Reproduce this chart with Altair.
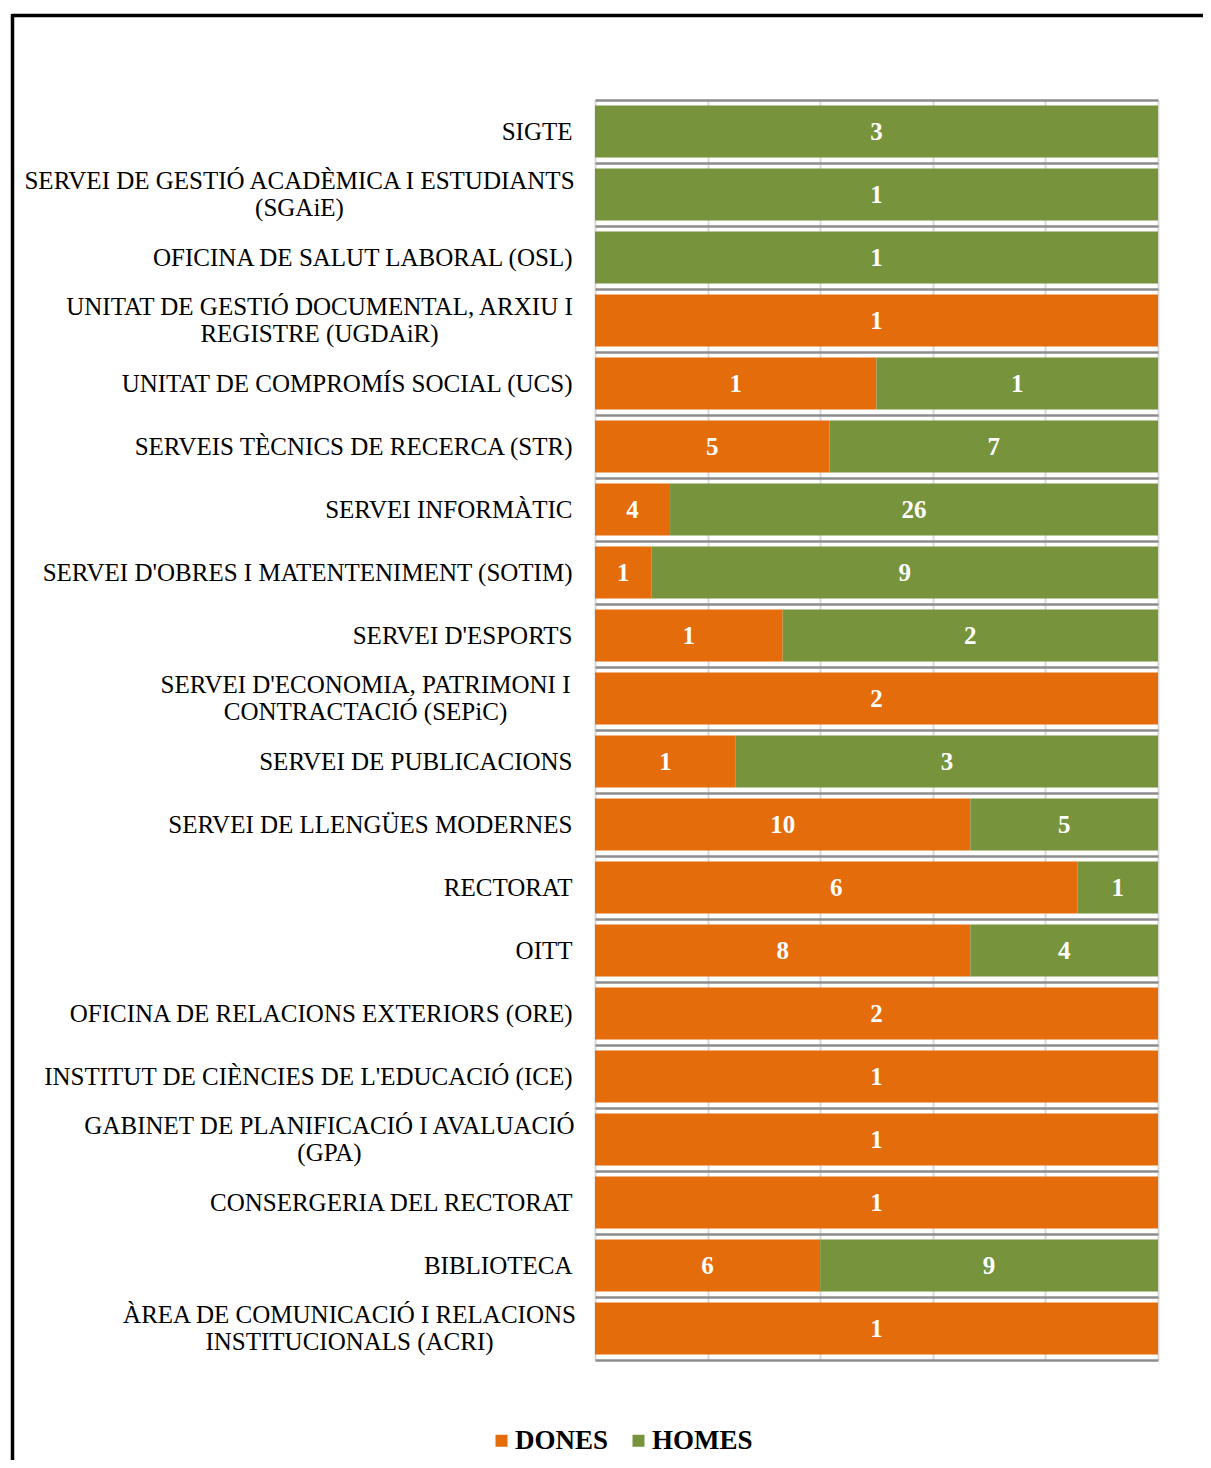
import json
import altair as alt
import pandas as pd

categories = [
    "SIGTE",
    "SERVEI DE GESTIÓ ACADÈMICA I ESTUDIANTS|(SGAiE)",
    "OFICINA DE SALUT LABORAL (OSL)",
    "UNITAT DE GESTIÓ DOCUMENTAL, ARXIU I|REGISTRE (UGDAiR)",
    "UNITAT DE COMPROMÍS SOCIAL (UCS)",
    "SERVEIS TÈCNICS DE RECERCA (STR)",
    "SERVEI INFORMÀTIC",
    "SERVEI D'OBRES I MATENTENIMENT (SOTIM)",
    "SERVEI D'ESPORTS",
    "SERVEI D'ECONOMIA, PATRIMONI I|CONTRACTACIÓ (SEPiC)",
    "SERVEI DE PUBLICACIONS",
    "SERVEI DE LLENGÜES MODERNES",
    "RECTORAT",
    "OITT",
    "OFICINA DE RELACIONS EXTERIORS (ORE)",
    "INSTITUT DE CIÈNCIES DE L'EDUCACIÓ (ICE)",
    "GABINET DE PLANIFICACIÓ I AVALUACIÓ|(GPA)",
    "CONSERGERIA DEL RECTORAT",
    "BIBLIOTECA",
    "ÀREA DE COMUNICACIÓ I RELACIONS|INSTITUCIONALS (ACRI)",
]
dones = [0, 0, 0, 1, 1, 5, 4, 1, 1, 2, 1, 10, 6, 8, 2, 1, 1, 1, 6, 1]
homes = [3, 1, 1, 0, 1, 7, 26, 9, 2, 0, 3, 5, 1, 4, 0, 0, 0, 0, 9, 0]
series = ["DONES", "HOMES"]
colors = ["#E46C0A", "#77933C"]

# label-centre padding for the two-line labels (lines centred on each other)
multiline_padding = {
    "SERVEI DE GESTIÓ ACADÈMICA I ESTUDIANTS|(SGAiE)": 296,
    "UNITAT DE GESTIÓ DOCUMENTAL, ARXIU I|REGISTRE (UGDAiR)": 276,
    "SERVEI D'ECONOMIA, PATRIMONI I|CONTRACTACIÓ (SEPiC)": 230,
    "GABINET DE PLANIFICACIÓ I AVALUACIÓ|(GPA)": 266,
    "ÀREA DE COMUNICACIÓ I RELACIONS|INSTITUCIONALS (ACRI)": 246,
}

rows = []
for c, d, h in zip(categories, dones, homes):
    rows.append({"cat": c, "sexe": "DONES", "n": d, "ord": 0})
    rows.append({"cat": c, "sexe": "HOMES", "n": h, "ord": 1})
df = pd.DataFrame(rows)

FONT = "Liberation Serif"
IS_MULTI = "indexof(datum.value, '|') >= 0"

pad_conditions = [
    {"test": "datum.value === " + json.dumps(k), "value": v}
    for k, v in multiline_padding.items()
]

base = (
    alt.Chart(df)
    .transform_filter("datum.n > 0")
    .transform_stack(
        stack="n",
        groupby=["cat"],
        as_=["x0", "x1"],
        offset="normalize",
        sort=[alt.SortField("ord")],
    )
    .transform_calculate(xm="(datum.x0 + datum.x1) / 2")
)

yenc = alt.Y(
    "cat:N",
    sort=categories,
    scale=alt.Scale(paddingInner=0.175, paddingOuter=0.0875),
    axis=alt.Axis(
        title=None,
        labelExpr="split(datum.label, '|')",
        labelFont=FONT,
        labelFontSize=25,
        labelColor="#000000",
        labelAlign={"condition": {"test": IS_MULTI, "value": "center"}, "value": "right"},
        labelPadding={"condition": pad_conditions, "value": 23},
        labelOffset={"condition": {"test": IS_MULTI, "value": -13.5}, "value": 0},
        labelLineHeight=27,
        labelLimit=700,
        domain=False,
        ticks=False,
        grid=False,
    ),
)

bars = base.mark_bar().encode(
    x=alt.X(
        "x0:Q",
        scale=alt.Scale(domain=[0, 1], nice=False, zero=True),
        axis=alt.Axis(
            title=None,
            labels=False,
            ticks=False,
            domain=False,
            grid=True,
            gridColor="#d9d9d9",
            gridWidth=2,
            values=[0, 0.2, 0.4, 0.6, 0.8, 1.0],
        ),
    ),
    x2="x1:Q",
    y=yenc,
    color=alt.Color(
        "sexe:N",
        scale=alt.Scale(domain=series, range=colors),
        legend=alt.Legend(
            title=None,
            orient="none",
            direction="horizontal",
            legendX=-107,
            legendY=1327,
            symbolType="square",
            symbolSize=144,
            symbolStrokeWidth=0,
            labelFont=FONT,
            labelFontSize=27,
            labelFontWeight="bold",
            labelColor="#000000",
            labelOffset=0,
            columnPadding=16,
        ),
    ),
)

labels = base.mark_text(
    color="white", font=FONT, fontSize=25, fontWeight="bold", baseline="middle"
).encode(
    x=alt.X("xm:Q"),
    y=alt.Y("cat:N", sort=categories),
    text=alt.Text("n:Q"),
)

# band-boundary horizontal grid lines (separate band scale without padding)
grid_layer = alt.Chart(df).mark_point(opacity=0).encode(
    y=alt.Y(
        "cat:N",
        sort=categories,
        scale=alt.Scale(paddingInner=0, paddingOuter=0),
        axis=alt.Axis(
            orient="right",
            title=None,
            labels=False,
            ticks=False,
            domain=False,
            grid=True,
            gridColor="#8c8c8c",
            gridWidth=2.5,
            tickBand="extent",
        ),
    )
)

frame_data = alt.Data(values=[{"k": 1}])
top_line = alt.Chart(frame_data).mark_rule(color="black", strokeWidth=3.5).encode(
    x=alt.value(-583), x2=alt.value(620), y=alt.value(-84.5)
)
left_line = alt.Chart(frame_data).mark_rule(color="black", strokeWidth=3.5).encode(
    x=alt.value(-582.5), y=alt.value(-86), y2=alt.value(1380)
)

main = alt.layer(bars, labels)

chart = (
    alt.layer(grid_layer, main, top_line, left_line)
    .resolve_scale(y="independent")
    .properties(
        width=563,
        height=1260,
        autosize=alt.AutoSizeParams(type="none"),
        padding={"left": 587, "top": 92, "right": 45, "bottom": 100},
    )
    .configure_view(stroke=None)
    .configure(font=FONT)
)

chart.save("out.html", embed_options={"renderer": "svg", "actions": False})
